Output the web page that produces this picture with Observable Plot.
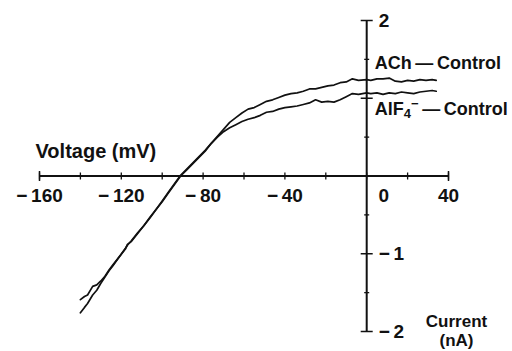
<!DOCTYPE html>
<html>
<head>
<meta charset="utf-8">
<script src="https://cdn.jsdelivr.net/npm/d3@7"></script>
<script src="https://cdn.jsdelivr.net/npm/@observablehq/plot@0.6"></script>
<style>
  html, body { margin: 0; padding: 0; background: #fff; }
  #chart svg { display: block; }
</style>
</head>
<body>
<div id="chart"></div>
<script>
// Membrane voltage (mV) at which both difference currents were sampled
const voltage = [-140, -138, -136.5, -134, -132, -130, -128, -126, -124, -121, -118, -117, -115, -112, -109, -106, -103, -100, -97, -94, -91, -88, -85, -82, -79, -76, -73, -70, -67, -64, -61, -58, -55, -52, -49, -46, -43, -40, -37, -34, -31, -28, -25, -22, -19, -16, -13, -10, -7, -4, 0, 2, 5, 8, 11, 14, 17, 20, 23, 26, 29, 32, 34];
// Difference currents (nA)
const achControl = [-1.76, -1.69, -1.64, -1.53, -1.47, -1.38, -1.30, -1.22, -1.15, -1.04, -0.94, -0.88, -0.84, -0.74, -0.64, -0.54, -0.43, -0.33, -0.22, -0.11, 0.00, 0.08, 0.16, 0.24, 0.32, 0.42, 0.51, 0.60, 0.69, 0.75, 0.81, 0.86, 0.88, 0.92, 0.96, 0.98, 1.01, 1.04, 1.06, 1.07, 1.09, 1.12, 1.12, 1.14, 1.16, 1.17, 1.20, 1.21, 1.25, 1.23, 1.24, 1.23, 1.25, 1.25, 1.26, 1.22, 1.21, 1.23, 1.22, 1.24, 1.23, 1.24, 1.23];
const alf4Control = [-1.59, -1.55, -1.53, -1.42, -1.40, -1.35, -1.29, -1.21, -1.14, -1.04, -0.93, -0.89, -0.83, -0.73, -0.64, -0.53, -0.43, -0.32, -0.21, -0.10, 0.01, 0.09, 0.17, 0.25, 0.33, 0.42, 0.50, 0.57, 0.62, 0.66, 0.70, 0.73, 0.75, 0.78, 0.82, 0.83, 0.86, 0.88, 0.89, 0.90, 0.92, 0.94, 0.98, 0.95, 0.96, 0.95, 0.98, 1.02, 1.06, 1.05, 1.07, 1.06, 1.07, 1.05, 1.07, 1.06, 1.08, 1.07, 1.06, 1.08, 1.09, 1.10, 1.09];
const seriesNames = ["ACh\u2009—\u2009Control", "AlF4- \u2009—\u2009Control"];

// Axis ticks and labels
const xTicks = [-160, -140, -120, -100, -80, -60, -40, -20, 0, 20, 40];
const xEndTicks = [-160, 40];
const xTickLabels = [-160, -120, -80, -40, 40];
const xZeroLabel = [0];
const yMajorTicks = [-2, -1, 1, 2];
const yMinorTicks = [-1.5, -0.5, 0.5, 1.5];
const yTickLabels = [2, -1, -2];
const xAxisLabel = "Voltage (mV)";
const yAxisLabel = "Current\n(nA)";

const rows = [];
voltage.forEach((v, i) => {
  rows.push({series: seriesNames[0], v, c: achControl[i]});
  rows.push({series: seriesNames[1], v, c: alf4Control[i]});
});

const fmt = v => v < 0 ? "\u2212\u2009" + Math.abs(v) : String(v);

const vTick = {draw(ctx, size) { const r = Math.sqrt(size / Math.PI); ctx.moveTo(0, -r); ctx.lineTo(0, r); }};
const hTick = {draw(ctx, size) { const r = Math.sqrt(size / Math.PI); ctx.moveTo(-r, 0); ctx.lineTo(r, 0); }};

const ink = "#111";
const font = 19;

const chart = Plot.plot({
  width: 512,
  height: 351,
  marginLeft: 39,
  marginRight: 64,
  marginTop: 20,
  marginBottom: 20,
  x: {domain: [-160, 40], axis: null},
  y: {domain: [-2, 2], axis: null},
  style: {fontFamily: "'Liberation Sans', Arial, Helvetica, sans-serif", background: "#fff", color: ink},
  marks: [
    Plot.ruleY([0], {stroke: ink, strokeWidth: 2}),
    Plot.ruleX([0], {stroke: ink, strokeWidth: 2}),
    Plot.dot(xTicks, {x: d => d, y: () => 0, symbol: vTick, r: 3.5, stroke: ink, strokeWidth: 1.3}),
    Plot.dot(xEndTicks, {x: d => d, y: () => 0, symbol: vTick, r: 5, stroke: ink, strokeWidth: 1.5}),
    Plot.dot(yMajorTicks, {x: () => 0, y: d => d, symbol: hTick, r: 6, stroke: ink, strokeWidth: 1.5}),
    Plot.dot(yMinorTicks, {x: () => 0, y: d => d, symbol: hTick, r: 2.5, stroke: ink, strokeWidth: 1.3}),
    Plot.line(rows, {x: "v", y: "c", z: "series", stroke: ink, strokeWidth: 1.7, curve: "linear"}),
    Plot.text(xTickLabels, {x: d => d, y: () => 0, text: fmt, dy: 12, lineAnchor: "top", fontSize: font, fontWeight: "bold", fill: ink}),
    Plot.text(xZeroLabel, {x: d => d, y: () => 0, text: fmt, dx: 17, dy: 12, lineAnchor: "top", fontSize: font, fontWeight: "bold", fill: ink}),
    Plot.text(yTickLabels, {x: () => 0, y: d => d, text: fmt, dx: 12, textAnchor: "start", fontSize: font, fontWeight: "bold", fill: ink}),
    Plot.text([xAxisLabel], {x: () => -160, y: () => 0, text: d => d, dx: -4, dy: -24, textAnchor: "start", fontSize: 20, fontWeight: "bold", fill: ink}),
    Plot.text([yAxisLabel], {x: () => 40, y: () => -2, text: d => d, dx: 8, dy: -18, lineAnchor: "top", lineHeight: 1.12, fontSize: 17, fontWeight: "bold", fill: ink}),
    Plot.text(rows, {filter: d => d.v === 0 && d.series === seriesNames[0], x: "v", y: "c", text: "series", dx: 8, dy: -16.5, textAnchor: "start", fontSize: 18, fontWeight: "bold", fill: ink}),
    Plot.text(rows, {filter: d => d.v === 0 && d.series === seriesNames[1], x: "v", y: "c", text: "series", dx: 8, dy: 16.5, textAnchor: "start", fontSize: 18, fontWeight: "bold", fill: ink})
  ]
});

// Render AlF4⁻ with a real subscript and superscript
d3.select(chart).selectAll("text").filter(function() { return this.textContent.startsWith("AlF4-"); }).each(function() {
  const t = d3.select(this);
  const rest = this.textContent.replace("AlF4- ", "");
  t.text(null);
  t.append("tspan").text("AlF");
  t.append("tspan").attr("font-size", 13).attr("dy", 3).text("4");
  t.append("tspan").attr("font-size", 13).attr("dy", -10).text("\u2212");
  t.append("tspan").attr("dy", 7).text(rest);
});

document.getElementById("chart").append(chart);
</script>
</body>
</html>
